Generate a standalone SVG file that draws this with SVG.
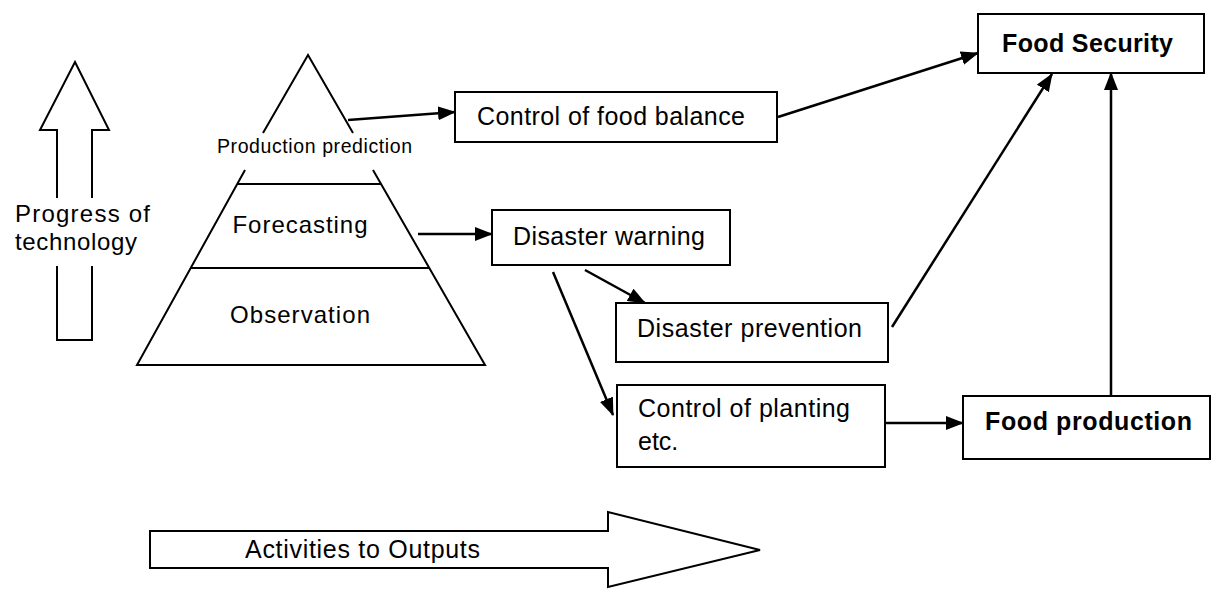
<svg xmlns="http://www.w3.org/2000/svg" width="1215" height="589" viewBox="0 0 1215 589">
<defs>
<marker id="ah" markerWidth="18" markerHeight="14" refX="17" refY="7" orient="auto" markerUnits="userSpaceOnUse"><path d="M0,0 L18,7 L0,14 Z" fill="#000"/></marker>
</defs>
<style>
.box{fill:#fff;stroke:#000;stroke-width:2}
.ln{fill:none;stroke:#000;stroke-width:2}
.big{fill:#fff;stroke:#000;stroke-width:2}
.con{fill:none;stroke:#000;stroke-width:2.5;marker-end:url(#ah)}
text{font-family:"Liberation Sans",Arial,sans-serif;font-size:25px;fill:#000}
.b{font-weight:bold}
.s24{font-size:24px}
.s19{font-size:19.5px}
</style>
<rect width="1215" height="589" fill="#fff"/>

<g id="progress-arrow">
<path class="ln" d="M57,198 V130 H40 L75,62 L109,130 H92 V198 M57,266 V340 H92 V266"/>
<text class="s24" x="15" y="222" textLength="135">Progress of</text>
<text class="s24" x="15" y="250" textLength="122">technology</text>
</g>

<g id="pyramid">
<path class="ln" d="M263,133 L308,55 L353,133 M245,170 L137,365 H485 L373,170 M237,184 H381 M190,268 H430"/>
<text class="s19" x="217" y="153" textLength="195">Production prediction</text>
<text class="s24" x="300" y="233" text-anchor="middle" textLength="135">Forecasting</text>
<text class="s24" x="300" y="323" text-anchor="middle" textLength="140">Observation</text>
</g>

<g id="control-food-balance">
<rect class="box" x="455" y="92" width="322" height="50"/>
<text x="477" y="125" textLength="268">Control of food balance</text>
</g>

<g id="food-security">
<rect class="box" x="978" y="14" width="226" height="59"/>
<text class="b" x="1002" y="52" textLength="171">Food Security</text>
</g>

<g id="disaster-warning">
<rect class="box" x="492" y="210" width="238" height="55"/>
<text x="513" y="245" textLength="192">Disaster warning</text>
</g>

<g id="disaster-prevention">
<rect class="box" x="616" y="303" width="272" height="59"/>
<text x="637" y="337" textLength="225">Disaster prevention</text>
</g>

<g id="control-planting">
<rect class="box" x="617" y="385" width="268" height="82"/>
<text x="638" y="417" textLength="212">Control of planting</text>
<text x="638" y="450">etc.</text>
</g>

<g id="food-production">
<rect class="box" x="963" y="396" width="247" height="63"/>
<text class="b" x="985" y="430" textLength="207">Food production</text>
</g>

<g id="activities-arrow">
<path class="big" d="M150,531 H608 V512 L760,550 L608,587 V568 H150 Z"/>
<text x="245" y="558" textLength="235">Activities to Outputs</text>
</g>

<g id="connectors">
<path class="con" d="M348,120 L455,112"/>
<path class="con" d="M418,234 L492,234"/>
<path class="con" d="M778,117 L978,53"/>
<path class="con" d="M585,270 L645,303"/>
<path class="con" d="M553,272 L613,415"/>
<path class="con" d="M892,327 L1052,74"/>
<path class="con" d="M885,423 L963,423"/>
<path class="con" d="M1111,396 L1111,73"/>
</g>
</svg>
